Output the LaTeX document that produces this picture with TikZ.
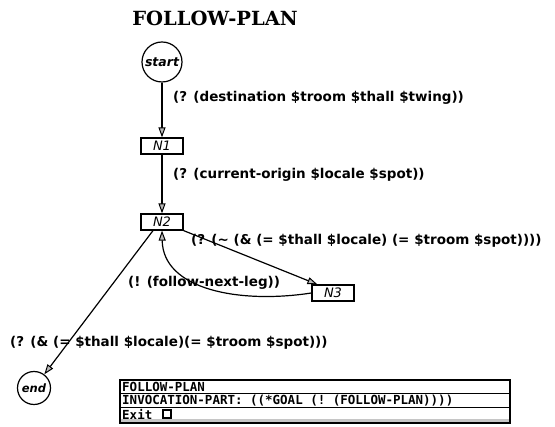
\documentclass[tikz,border=0pt]{standalone}
\usepackage{fontspec}
\setmainfont{DejaVu Serif}
\setsansfont{DejaVu Sans}
\setmonofont{DejaVu Sans Mono}
\usetikzlibrary{arrows.meta}
\begin{document}
\begin{tikzpicture}[x=1pt,y=-1pt,
  state/.style={circle,draw,line width=1.2pt,minimum size=40pt,inner sep=0pt,
    font=\sffamily\bfseries\itshape\fontsize{12.5}{12.5}\selectfont},
  plannode/.style={draw,line width=1.2pt,minimum width=42pt,minimum height=16pt,inner sep=0pt,
    font=\sffamily\itshape\fontsize{13}{13}\selectfont},
  arc/.style={line width=1.2pt,-{Triangle[length=10pt,width=7pt,fill=gray!55,line width=1pt]}},
  cond/.style={anchor=west,inner sep=0pt,font=\sffamily\bfseries\fontsize{13.5}{13.5}\selectfont},
  rowtext/.style={anchor=west,inner sep=0pt,font=\ttfamily\bfseries\fontsize{12.5}{12.5}\selectfont}]
\useasboundingbox (0,0) rectangle (555,427);

% title
\node[font=\rmfamily\bfseries\fontsize{19.5}{19.5}\selectfont] (title) at (215,18) {FOLLOW-PLAN};

% states of the plan graph
\node[state] (start) at (162,62) {start};
\node[plannode] (n1) at (162,146) {N1};
\node[plannode] (n2) at (162,222) {N2};
\node[plannode] (n3) at (333,293) {N3};
\node[state,minimum size=33pt,font=\sffamily\bfseries\itshape\fontsize{11.5}{11.5}\selectfont] (end) at (34,388) {end};

% transitions
\draw[arc] (start) -- (n1);
\draw[arc] (n1) -- (n2);
\draw[arc] (n2.south east) -- ([xshift=6pt]n3.north west);
\draw[arc] (n3.west) .. controls (240,304) and (163,290) .. (n2.south);
\draw[arc] ([xshift=-9pt]n2.south) -- (end);

% transition conditions and actions
\node[cond] (l1) at (173,98) {(? (destination \$troom \$thall \$twing))};
\node[cond] (l2) at (173,175) {(? (current-origin \$locale \$spot))};
\node[cond] (l3) at (191,241) {(? (\textasciitilde{} (\& (= \$thall \$locale) (= \$troom \$spot))))};
\node[cond] (l4) at (128,283) {(! (follow-next-leg))};
\node[cond] (l5) at (10,343) {(? (\& (= \$thall \$locale)(= \$troom \$spot)))};

% invocation panel
\fill[gray!45] (120,419) rectangle (510,423);
\draw[line width=0.8pt] (120,393.5) -- (510,393.5);
\draw[line width=0.8pt] (120,407.5) -- (510,407.5);
\draw[line width=1.6pt] (120,380) rectangle (510,423);
\node[rowtext] (r1) at (122,387) {FOLLOW-PLAN};
\node[rowtext] (r2) at (122,400.5) {INVOCATION-PART: ((*GOAL (! (FOLLOW-PLAN))))};
\node[rowtext] (r3) at (122,414) {Exit};
\node[draw,line width=1.4pt,minimum size=8pt,inner sep=0pt] (chk) at (167,414) {};
\end{tikzpicture}
\end{document}
